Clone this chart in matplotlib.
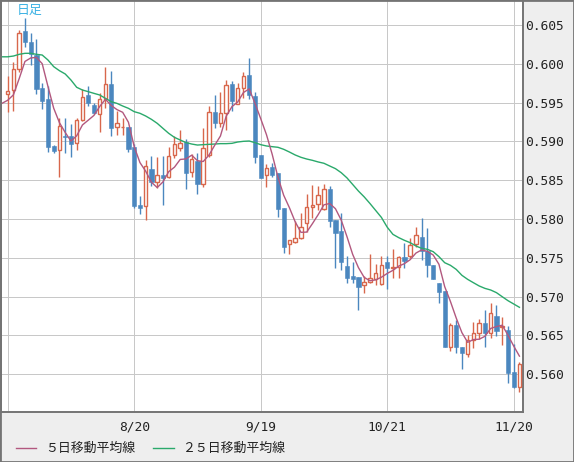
import numpy as np
import pandas as pd
import matplotlib
matplotlib.use("Agg")
import matplotlib.pyplot as plt
from matplotlib.lines import Line2D
from matplotlib.patches import Rectangle

# ---------------- data ----------------
opens = [0.59606, 0.59662, 0.59928, 0.60423, 0.60281, 0.60113, 0.59687, 0.59541, 0.58939, 0.58883,
         0.59068, 0.59068, 0.58973, 0.59270, 0.59593, 0.59464, 0.59348, 0.59541, 0.59739, 0.59180,
         0.59180, 0.59184, 0.58930, 0.58174, 0.58169, 0.58642, 0.58479, 0.58565, 0.58535, 0.58819,
         0.58909, 0.58987, 0.58610, 0.58752, 0.58451, 0.58825, 0.59383, 0.59233, 0.59370, 0.59735,
         0.59478, 0.59684, 0.59856, 0.59585, 0.58825, 0.58563, 0.58674, 0.58589, 0.58137, 0.57678,
         0.57708, 0.57750, 0.57944, 0.58150, 0.58189, 0.58125, 0.58386, 0.57987, 0.57845, 0.57394,
         0.57265, 0.57248, 0.57145, 0.57184, 0.57227, 0.57158, 0.57446, 0.57373, 0.57386, 0.57506,
         0.57520, 0.57673, 0.57764, 0.57592, 0.57407, 0.57180, 0.57076, 0.56355, 0.56634, 0.56346,
         0.56256, 0.56441, 0.56526, 0.56655, 0.56535, 0.56750, 0.56608, 0.56570, 0.56028, 0.55831]
highs = [0.59842, 0.60027, 0.60436, 0.60586, 0.60393, 0.60315, 0.59748, 0.59713, 0.58948, 0.59300,
         0.59300, 0.59223, 0.59300, 0.59670, 0.59713, 0.59498, 0.59618, 0.59954, 0.59911, 0.59395,
         0.59296, 0.59184, 0.58965, 0.58294, 0.58759, 0.58806, 0.58802, 0.58806, 0.58930, 0.59068,
         0.59146, 0.59026, 0.58833, 0.58846, 0.59168, 0.59456, 0.59598, 0.59641, 0.59791, 0.59783,
         0.59748, 0.59899, 0.60070, 0.59641, 0.58825, 0.58704, 0.58717, 0.58589, 0.58137, 0.57729,
         0.57970, 0.58073, 0.58318, 0.58438, 0.58425, 0.58451, 0.58429, 0.57987, 0.58073, 0.57523,
         0.57450, 0.57248, 0.57265, 0.57549, 0.57420, 0.57523, 0.57523, 0.57609, 0.57523, 0.57686,
         0.57750, 0.57901, 0.58010, 0.57880, 0.57407, 0.57180, 0.57076, 0.56664, 0.56699, 0.56346,
         0.56505, 0.56677, 0.56707, 0.56827, 0.56913, 0.56892, 0.56741, 0.56621, 0.56389, 0.56162]
lows = [0.59382, 0.59395, 0.59900, 0.60221, 0.59984, 0.59610, 0.59421, 0.58866, 0.58853, 0.58535,
        0.58853, 0.58802, 0.58892, 0.59266, 0.59455, 0.59352, 0.59124, 0.59434, 0.59068, 0.59077,
        0.59077, 0.58866, 0.58139, 0.58070, 0.57993, 0.58427, 0.58402, 0.58182, 0.58531, 0.58789,
        0.58879, 0.58381, 0.58545, 0.58322, 0.58417, 0.58803, 0.59168, 0.59190, 0.59147, 0.59396,
        0.59478, 0.59555, 0.59542, 0.58717, 0.58533, 0.58417, 0.58545, 0.58030, 0.57557, 0.57545,
        0.57695, 0.57737, 0.57837, 0.58009, 0.58116, 0.58116, 0.57901, 0.57364, 0.57343, 0.57179,
        0.57179, 0.56827, 0.57051, 0.57180, 0.57150, 0.57150, 0.57094, 0.57244, 0.57244, 0.57364,
        0.57500, 0.57635, 0.57472, 0.57257, 0.57227, 0.56920, 0.56355, 0.56303, 0.56269, 0.56063,
        0.56217, 0.56333, 0.56449, 0.56346, 0.56462, 0.56492, 0.56376, 0.55891, 0.55818, 0.55775]
closes = [0.59644, 0.59928, 0.60393, 0.60285, 0.60126, 0.59679, 0.59524, 0.58930, 0.58879, 0.59193,
          0.59051, 0.58969, 0.59270, 0.59576, 0.59498, 0.59361, 0.59545, 0.59735, 0.59176, 0.59232,
          0.59185, 0.58905, 0.58169, 0.58144, 0.58677, 0.58475, 0.58561, 0.58531, 0.58806, 0.58965,
          0.58973, 0.58595, 0.58773, 0.58451, 0.58911, 0.59383, 0.59233, 0.59370, 0.59727, 0.59525,
          0.59684, 0.59843, 0.59604, 0.58803, 0.58533, 0.58657, 0.58571, 0.58133, 0.57635, 0.57729,
          0.57750, 0.57893, 0.58150, 0.58180, 0.58309, 0.58382, 0.57978, 0.57815, 0.57450, 0.57244,
          0.57231, 0.57128, 0.57184, 0.57235, 0.57300, 0.57403, 0.57369, 0.57386, 0.57506, 0.57459,
          0.57660, 0.57794, 0.57592, 0.57407, 0.57227, 0.57063, 0.56355, 0.56634, 0.56346, 0.56277,
          0.56441, 0.56535, 0.56655, 0.56535, 0.56784, 0.56561, 0.56621, 0.56020, 0.55831, 0.56132]

# moving averages: the first values depend on earlier, unseen days ->
ma5_head = [0.5949, 0.5953, 0.5960, 0.5981, 0.6003]          # days -1 .. 3
ma25 = [0.6009, 0.6009, 0.6010, 0.60122, 0.60135, 0.60135, 0.60122, 0.60113, 0.60049, 0.59963,
        0.59911, 0.59869, 0.59791, 0.59697, 0.59662, 0.59641, 0.59619, 0.59598, 0.59555, 0.59512,
        0.59490, 0.59456, 0.59426, 0.59383, 0.59362, 0.59327, 0.59284, 0.59233, 0.59168, 0.59104,
        0.59052, 0.59018, 0.58985, 0.58966, 0.58953, 0.58958, 0.58962, 0.58966, 0.58971, 0.58971,
        0.58975, 0.58992, 0.59001, 0.59005, 0.58984, 0.58958, 0.58941, 0.58932, 0.58924, 0.58898,
        0.58863, 0.58825, 0.58795, 0.58773, 0.58756, 0.58735, 0.58718, 0.58683, 0.58649, 0.58597,
        0.58530, 0.58445, 0.58360, 0.58285, 0.58200, 0.58110, 0.58020, 0.57895, 0.57802, 0.57760,
        0.57725, 0.57695, 0.57652, 0.57622, 0.57609, 0.57579, 0.57515, 0.57437, 0.57403, 0.57351,
        0.57274, 0.57222, 0.57179, 0.57137, 0.57106, 0.57085, 0.57051, 0.56999, 0.56948, 0.56905,
        0.56862]                                               # days -1 .. 89

date_ticks = [0, 22, 44, 66, 88]
date_labels = ["", "8/20", "9/19", "10/21", "11/20"]
price_ticks = [0.560, 0.565, 0.570, 0.575, 0.580, 0.585, 0.590, 0.595, 0.600, 0.605]
legend_labels = ["５日移動平均線", "２５日移動平均線"]
title_text = "日足"

# ---------------- styling ----------------
RED = "#d8674c"
BLUE = "#4b87bf"
MA5_C = "#b2587f"
MA25_C = "#2aa96b"
GRID = "#c8c8c8"
FRAME = "#747474"
BG = "#eeeeee"

W, H = 574, 462
fig = plt.figure(figsize=(W / 100, H / 100), dpi=100)
fig.patch.set_facecolor(BG)

ax = fig.add_axes([1 / W, 50 / H, 522 / W, 412 / H])
ax.set_facecolor("white")

o = np.array(opens); h = np.array(highs); l = np.array(lows); c = np.array(closes)
x = np.arange(len(o))
up = c >= o
top = np.maximum(o, c)
bot = np.minimum(o, c)

# wicks (kept outside the bodies so hollow candles stay hollow)
ax.vlines(x[up], top[up], h[up], color=RED, lw=1.0, zorder=3)
ax.vlines(x[up], l[up], bot[up], color=RED, lw=1.0, zorder=3)
ax.vlines(x[~up], l[~up], h[~up], color=BLUE, lw=1.0, zorder=3)

minh = 0.00004
ax.bar(x[up], np.maximum(c[up] - o[up], minh), bottom=o[up], width=0.62,
       facecolor="white", edgecolor=RED, linewidth=1.0, zorder=4)
ax.bar(x[~up], np.maximum(o[~up] - c[~up], minh), bottom=c[~up], width=0.72,
       facecolor=BLUE, edgecolor=BLUE, linewidth=0.4, zorder=4)

# moving averages
ma5_tail = pd.Series(c).rolling(5).mean().to_numpy()[4:]
ma5 = np.concatenate([ma5_head, ma5_tail])
xm = np.arange(-1, len(o))
ax.plot(xm, ma25, color=MA25_C, lw=1.0, zorder=5)
ax.plot(xm, ma5, color=MA5_C, lw=1.0, zorder=6)

# axes
ax.set_xlim(-1.165, 89.62)
ax.set_ylim(0.55513, 0.60822)
ax.set_xticks(date_ticks)
ax.set_xticklabels(date_labels)
ax.set_yticks(price_ticks)
ax.set_yticklabels([f"{v:.3f}" for v in price_ticks])
ax.yaxis.tick_right()
ax.tick_params(axis="both", length=0, colors="#222222", labelsize=9.3)
ax.tick_params(axis="y", pad=1.5)
ax.tick_params(axis="x", pad=6)
for lab in ax.get_xticklabels() + ax.get_yticklabels():
    lab.set_family("DejaVu Sans Mono")
ax.grid(True, color=GRID, lw=0.72, zorder=0, antialiased=False)
ax.set_axisbelow(True)
for s in ax.spines.values():
    s.set_color(FRAME)
    s.set_linewidth(1.4)

# title label
fig.text(17 / W, 1 - 10 / H, title_text, color="#3cb2e4", fontsize=9.3,
         family=["Noto Sans CJK JP", "DejaVu Sans"], va="center", ha="left")

# legend (drawn manually at the bottom)
ly = 1 - 448 / H
fig.add_artist(Line2D([16 / W, 36 / W], [ly, ly], color=MA5_C, lw=1.0))
fig.text(45 / W, ly, legend_labels[0], fontsize=9.3, color="#222222",
         family=["Noto Sans CJK JP", "DejaVu Sans"], va="center", ha="left")
fig.add_artist(Line2D([153 / W, 174 / W], [ly, ly], color=MA25_C, lw=1.0))
fig.text(182 / W, ly, legend_labels[1], fontsize=9.3, color="#222222",
         family=["Noto Sans CJK JP", "DejaVu Sans"], va="center", ha="left")

# outer frame
fig.add_artist(Rectangle((0, 0), 1, 1, transform=fig.transFigure, fill=False,
                         edgecolor=FRAME, lw=2.0))

fig.savefig("out.png", dpi=100, facecolor=BG)
